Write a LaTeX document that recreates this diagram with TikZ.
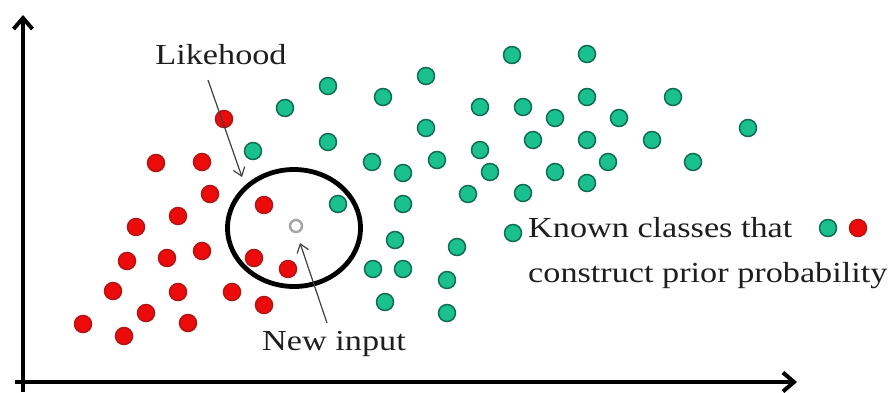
\documentclass[tikz,border=0pt]{standalone}
\usepackage{fontspec}
\setmainfont{Liberation Serif}[FakeStretch=1.18]
\usetikzlibrary{arrows.meta,shapes.geometric}

\definecolor{knowngreen}{RGB}{26,192,142}
\definecolor{knowngreenline}{RGB}{16,110,84}
\definecolor{knownred}{RGB}{236,10,10}
\definecolor{knownredline}{RGB}{180,20,20}
\definecolor{labelgray}{RGB}{30,30,30}

\begin{document}
\begin{tikzpicture}[x=1pt,y=-1pt,
    axisline/.style={line width=4pt,-{Straight Barb[length=11pt,width=19pt]}},
    pointer/.style={draw=labelgray!85,line width=1.2pt,-{Straight Barb[length=8pt,width=12pt]}},
    labeltext/.style={text=labelgray,font=\fontsize{29}{32}\selectfont,inner sep=0pt,anchor=base}]

      \useasboundingbox (0,0) rectangle (893,392);

      % axes
      \coordinate (ybot) at (23,392);
      \coordinate (ytop) at (23,15);
      \coordinate (xleft) at (15,382);
      \coordinate (xend) at (797,382);
      \draw[axisline] (ybot) -- (ytop);
      \draw[axisline] (xleft) -- (xend);

      % likelihood window and the new point
      \node[draw, ellipse, line width=4.8pt, minimum width=133pt, minimum height=117pt, inner sep=0pt] (window) at (294,228) {};
      \node[circle, draw=gray!70, line width=2.5pt, minimum size=12pt, inner sep=0pt] (newin) at (296,226) {};

      \begin{scope}[every node/.style={circle, fill=knownred, draw=knownredline, line width=1.5pt, minimum size=17pt, inner sep=0pt}]
        \node (r1)  at (224,119) {};
        \node (r2)  at (156,163) {};
        \node (r3)  at (202,162) {};
        \node (r4)  at (210,194) {};
        \node (r5)  at (178,216) {};
        \node (r6)  at (136,227) {};
        \node (r7)  at (127,261) {};
        \node (r8)  at (167,258) {};
        \node (r9)  at (202,251) {};
        \node (r10) at (113,291) {};
        \node (r11) at (178,292) {};
        \node (r12) at (232,292) {};
        \node (r13) at (264,305) {};
        \node (r14) at (146,313) {};
        \node (r15) at (188,323) {};
        \node (r16) at (83,324) {};
        \node (r17) at (124,336) {};
        \node (r18) at (264,205) {};
        \node (r19) at (254,258) {};
        \node (r20) at (288,269) {};
        \node (r21) at (858,228) {};
      \end{scope}

      \begin{scope}[every node/.style={circle, fill=knowngreen, draw=knowngreenline, line width=1.5pt, minimum size=17pt, inner sep=0pt}]
        \node (g1)  at (285,108) {};
        \node (g2)  at (328,86)  {};
        \node (g3)  at (383,97)  {};
        \node (g4)  at (426,76)  {};
        \node (g5)  at (512,55)  {};
        \node (g6)  at (587,54)  {};
        \node (g7)  at (328,142) {};
        \node (g8)  at (426,128) {};
        \node (g9)  at (253,151) {};
        \node (g10) at (372,162) {};
        \node (g11) at (403,173) {};
        \node (g12) at (437,160) {};
        \node (g13) at (480,107) {};
        \node (g14) at (523,107) {};
        \node (g15) at (587,97)  {};
        \node (g16) at (673,97)  {};
        \node (g17) at (555,118) {};
        \node (g18) at (619,118) {};
        \node (g19) at (748,128) {};
        \node (g20) at (533,140) {};
        \node (g21) at (587,140) {};
        \node (g22) at (652,140) {};
        \node (g23) at (480,150) {};
        \node (g24) at (490,172) {};
        \node (g25) at (555,172) {};
        \node (g26) at (608,162) {};
        \node (g27) at (693,162) {};
        \node (g28) at (587,183) {};
        \node (g29) at (468,194) {};
        \node (g30) at (523,193) {};
        \node (g31) at (338,204) {};
        \node (g32) at (403,204) {};
        \node (g33) at (395,240) {};
        \node (g34) at (457,247) {};
        \node (g35) at (513,233) {};
        \node (g36) at (373,269) {};
        \node (g37) at (403,269) {};
        \node (g38) at (447,280) {};
        \node (g39) at (385,302) {};
        \node (g40) at (447,313) {};
        \node (g41) at (828,228) {};
      \end{scope}

      % labels
      \begin{scope}[every node/.style={labeltext}]
        \node (likehood) at (221,64) {Likehood};
        \node (newlabel) at (334,350) {New input};
        \node[anchor=base west] (known) at (528,237) {Known classes that};
        \node[anchor=base west] (prior) at (528,282) {construct prior probability};
      \end{scope}

      \coordinate (lktail) at (208,80);
      \coordinate (lktip)  at (242,177);
      \coordinate (nitail) at (327,323);
      \coordinate (nitip)  at (300,243);
      \path (lktail) edge[pointer] (lktip);
      \path (nitail) edge[pointer] (nitip);

    \end{tikzpicture}
\end{document}
